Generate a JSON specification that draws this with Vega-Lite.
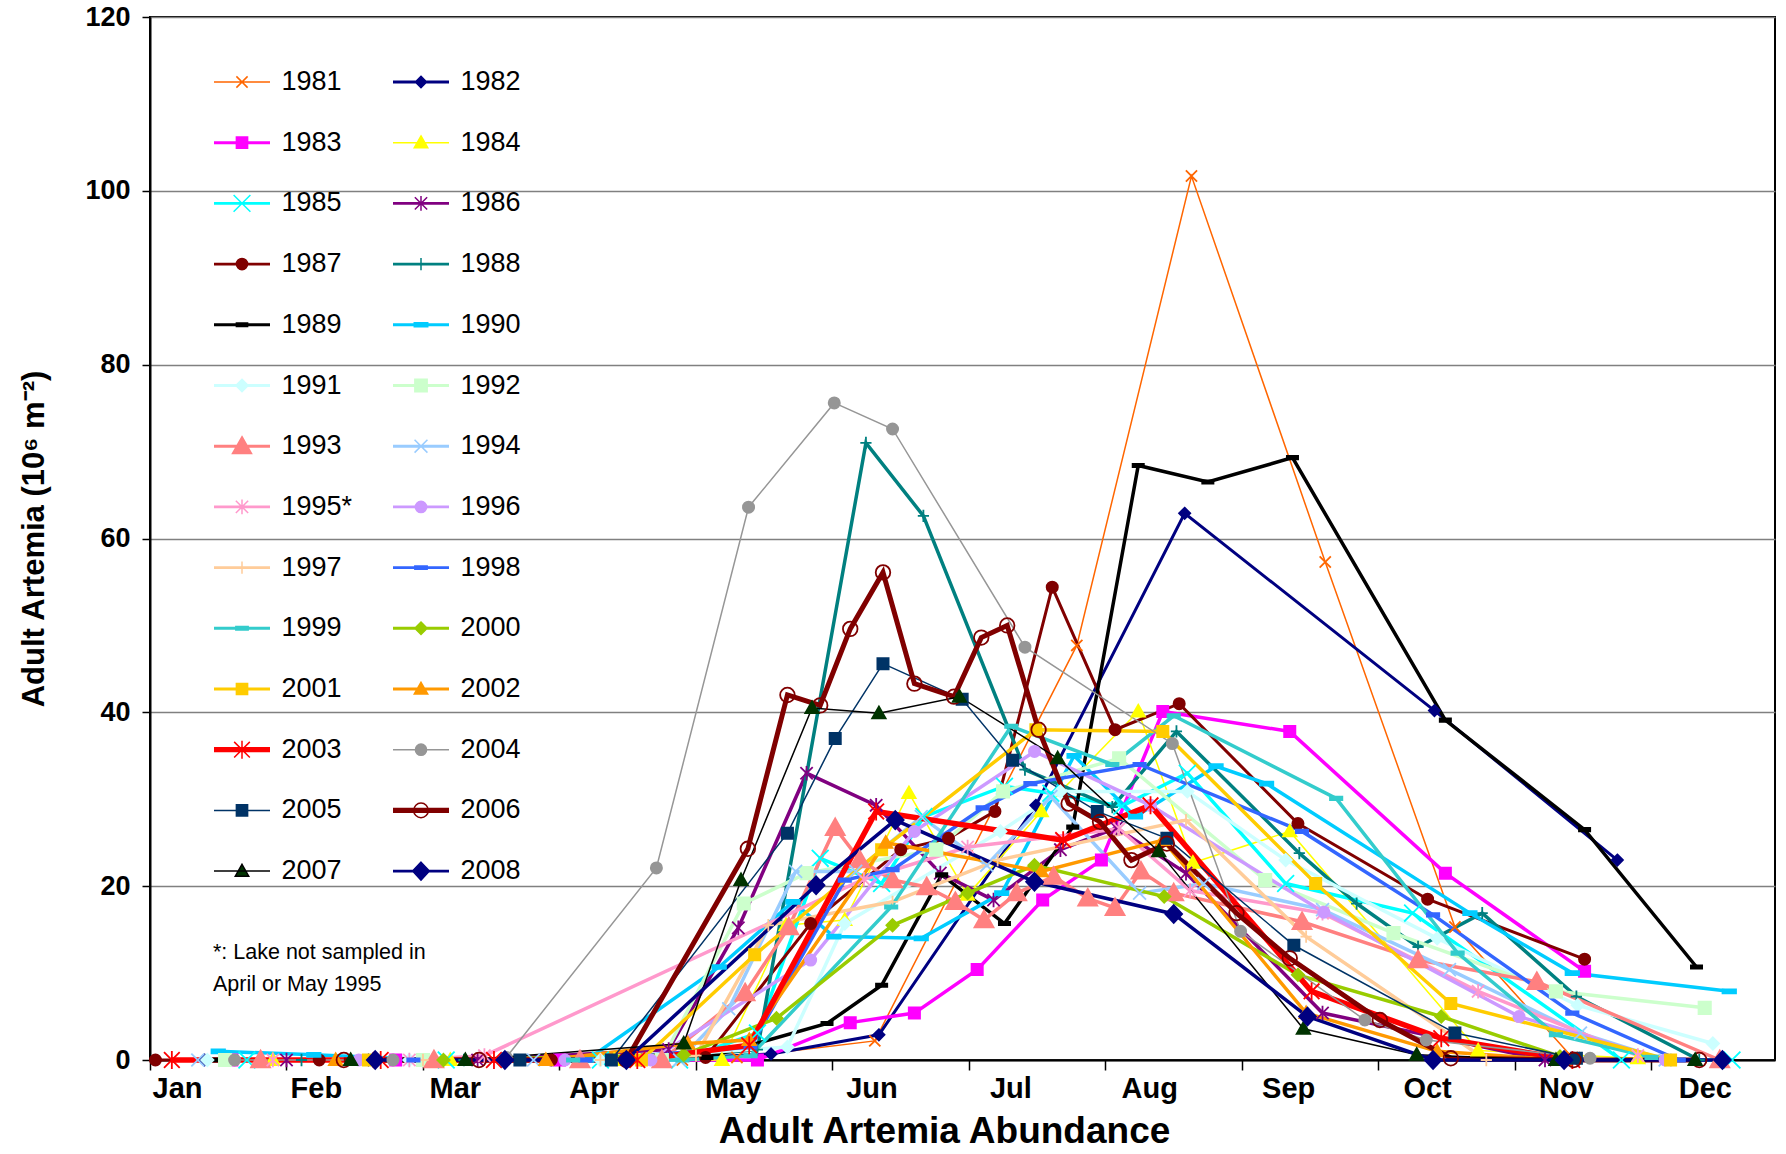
{
  "$schema": "https://vega.github.io/schema/vega-lite/v6.json",
  "width": 1625,
  "height": 1043,
  "autosize": "none",
  "padding": {"left": 150, "top": 17, "right": 11, "bottom": 94},
  "background": "white",
  "config": {"view": {"stroke": "#000", "strokeWidth": 2}},
  "data": {"values": [
    {"yr":"1981","m":3.9,"v":0},{"yr":"1981","m":4.3,"v":0.3},{"yr":"1981","m":5.31,"v":2.2},{"yr":"1981","m":6.79,"v":47.7},{"yr":"1981","m":7.63,"v":101.7},{"yr":"1981","m":8.61,"v":57.3},{"yr":"1981","m":9.56,"v":15.3},{"yr":"1981","m":10.42,"v":0.3},
    {"yr":"1982","m":0.4,"v":0},{"yr":"1982","m":1.6,"v":0},{"yr":"1982","m":2.6,"v":0},{"yr":"1982","m":3.6,"v":0},{"yr":"1982","m":4.55,"v":0.7},{"yr":"1982","m":5.34,"v":2.9},{"yr":"1982","m":6.49,"v":29.3},{"yr":"1982","m":7.58,"v":62.9},{"yr":"1982","m":9.41,"v":40.2},{"yr":"1982","m":10.75,"v":23.0},
    {"yr":"1983","m":0.6,"v":0},{"yr":"1983","m":1.8,"v":0},{"yr":"1983","m":3.0,"v":0},{"yr":"1983","m":4.45,"v":0},{"yr":"1983","m":5.13,"v":4.3},{"yr":"1983","m":5.6,"v":5.4},{"yr":"1983","m":6.06,"v":10.4},{"yr":"1983","m":6.54,"v":18.4},{"yr":"1983","m":6.97,"v":23.0},{"yr":"1983","m":7.42,"v":40.1},{"yr":"1983","m":8.35,"v":37.8},{"yr":"1983","m":9.49,"v":21.5},{"yr":"1983","m":10.51,"v":10.2},
    {"yr":"1984","m":0.9,"v":0},{"yr":"1984","m":2.2,"v":0},{"yr":"1984","m":3.4,"v":0},{"yr":"1984","m":4.19,"v":0},{"yr":"1984","m":4.66,"v":15.5},{"yr":"1984","m":5.09,"v":16.1},{"yr":"1984","m":5.56,"v":30.7},{"yr":"1984","m":5.99,"v":19.0},{"yr":"1984","m":6.53,"v":28.6},{"yr":"1984","m":7.24,"v":40.1},{"yr":"1984","m":7.64,"v":22.7},{"yr":"1984","m":8.35,"v":26.3},{"yr":"1984","m":9.73,"v":1.1},{"yr":"1984","m":10.9,"v":0.2},
    {"yr":"1985","m":0.71,"v":0},{"yr":"1985","m":2.17,"v":0},{"yr":"1985","m":3.3,"v":0},{"yr":"1985","m":3.88,"v":0},{"yr":"1985","m":4.45,"v":3.1},{"yr":"1985","m":4.91,"v":23.2},{"yr":"1985","m":5.36,"v":20.3},{"yr":"1985","m":5.67,"v":28.0},{"yr":"1985","m":6.26,"v":31.5},{"yr":"1985","m":6.6,"v":30.7},{"yr":"1985","m":7.12,"v":29.2},{"yr":"1985","m":7.6,"v":33.0},{"yr":"1985","m":8.32,"v":20.3},{"yr":"1985","m":9.25,"v":16.9},{"yr":"1985","m":10.78,"v":0},{"yr":"1985","m":11.59,"v":0},
    {"yr":"1986","m":1.0,"v":0},{"yr":"1986","m":2.4,"v":0},{"yr":"1986","m":3.8,"v":1.2},{"yr":"1986","m":4.31,"v":15.2},{"yr":"1986","m":4.81,"v":33.0},{"yr":"1986","m":5.32,"v":29.3},{"yr":"1986","m":5.79,"v":21.5},{"yr":"1986","m":6.18,"v":18.4},{"yr":"1986","m":6.67,"v":24.2},{"yr":"1986","m":7.08,"v":26.7},{"yr":"1986","m":7.59,"v":21.5},{"yr":"1986","m":8.59,"v":5.4},{"yr":"1986","m":10.22,"v":0},
    {"yr":"1987","m":0.04,"v":0},{"yr":"1987","m":1.24,"v":0},{"yr":"1987","m":2.94,"v":0},{"yr":"1987","m":4.07,"v":0.3},{"yr":"1987","m":4.84,"v":15.7},{"yr":"1987","m":5.5,"v":24.2},{"yr":"1987","m":5.85,"v":25.5},{"yr":"1987","m":6.19,"v":28.6},{"yr":"1987","m":6.61,"v":54.4},{"yr":"1987","m":7.07,"v":38.0},{"yr":"1987","m":7.54,"v":41.0},{"yr":"1987","m":8.41,"v":27.2},{"yr":"1987","m":9.36,"v":18.5},{"yr":"1987","m":10.51,"v":11.6},
    {"yr":"1988","m":1.11,"v":0},{"yr":"1988","m":2.3,"v":0},{"yr":"1988","m":3.6,"v":0},{"yr":"1988","m":4.45,"v":1.2},{"yr":"1988","m":5.245,"v":71.0},{"yr":"1988","m":5.666,"v":62.6},{"yr":"1988","m":6.41,"v":33.4},{"yr":"1988","m":7.05,"v":29.1},{"yr":"1988","m":7.52,"v":37.8},{"yr":"1988","m":8.42,"v":23.8},{"yr":"1988","m":8.84,"v":18.0},{"yr":"1988","m":9.29,"v":13.0},{"yr":"1988","m":9.76,"v":16.9},{"yr":"1988","m":10.45,"v":7.3},{"yr":"1988","m":11.35,"v":0},
    {"yr":"1989","m":0.48,"v":0},{"yr":"1989","m":1.9,"v":0},{"yr":"1989","m":3.1,"v":0},{"yr":"1989","m":4.08,"v":0.3},{"yr":"1989","m":4.96,"v":4.2},{"yr":"1989","m":5.36,"v":8.6},{"yr":"1989","m":5.8,"v":21.3},{"yr":"1989","m":6.26,"v":15.7},{"yr":"1989","m":6.76,"v":26.8},{"yr":"1989","m":7.24,"v":68.4},{"yr":"1989","m":7.75,"v":66.5},{"yr":"1989","m":8.37,"v":69.3},{"yr":"1989","m":9.49,"v":39.1},{"yr":"1989","m":10.51,"v":26.5},{"yr":"1989","m":11.33,"v":10.7},
    {"yr":"1990","m":0.5,"v":1.0},{"yr":"1990","m":1.2,"v":0.6},{"yr":"1990","m":2.1,"v":0},{"yr":"1990","m":3.2,"v":0},{"yr":"1990","m":4.17,"v":10.7},{"yr":"1990","m":4.71,"v":18.2},{"yr":"1990","m":5.01,"v":14.2},{"yr":"1990","m":5.65,"v":14.0},{"yr":"1990","m":6.24,"v":19.2},{"yr":"1990","m":6.77,"v":35.0},{"yr":"1990","m":7.22,"v":28.0},{"yr":"1990","m":7.81,"v":33.8},{"yr":"1990","m":8.18,"v":31.8},{"yr":"1990","m":9.67,"v":16.9},{"yr":"1990","m":10.42,"v":10.0},{"yr":"1990","m":11.57,"v":7.9},
    {"yr":"1991","m":0.42,"v":0},{"yr":"1991","m":1.9,"v":0},{"yr":"1991","m":3.3,"v":0},{"yr":"1991","m":4.67,"v":1.5},{"yr":"1991","m":5.09,"v":15.7},{"yr":"1991","m":6.23,"v":26.3},{"yr":"1991","m":6.67,"v":30.9},{"yr":"1991","m":7.6,"v":30.9},{"yr":"1991","m":8.32,"v":23.0},{"yr":"1991","m":9.43,"v":14.0},{"yr":"1991","m":10.46,"v":6.3},{"yr":"1991","m":11.45,"v":1.9},
    {"yr":"1992","m":0.55,"v":0},{"yr":"1992","m":2.0,"v":0},{"yr":"1992","m":3.75,"v":0},{"yr":"1992","m":4.35,"v":18.0},{"yr":"1992","m":4.81,"v":21.5},{"yr":"1992","m":5.76,"v":24.2},{"yr":"1992","m":6.25,"v":30.9},{"yr":"1992","m":7.1,"v":34.7},{"yr":"1992","m":8.17,"v":20.7},{"yr":"1992","m":9.11,"v":14.6},{"yr":"1992","m":10.3,"v":7.9},{"yr":"1992","m":11.39,"v":6.0},
    {"yr":"1993","m":0.81,"v":0},{"yr":"1993","m":2.08,"v":0},{"yr":"1993","m":3.15,"v":0},{"yr":"1993","m":3.75,"v":0},{"yr":"1993","m":4.36,"v":7.7},{"yr":"1993","m":4.68,"v":15.3},{"yr":"1993","m":5.02,"v":26.7},{"yr":"1993","m":5.2,"v":23.0},{"yr":"1993","m":5.44,"v":20.7},{"yr":"1993","m":5.69,"v":19.9},{"yr":"1993","m":5.9,"v":18.2},{"yr":"1993","m":6.11,"v":16.1},{"yr":"1993","m":6.35,"v":19.2},{"yr":"1993","m":6.62,"v":21.1},{"yr":"1993","m":6.87,"v":18.6},{"yr":"1993","m":7.07,"v":17.5},{"yr":"1993","m":7.26,"v":21.7},{"yr":"1993","m":7.5,"v":19.2},{"yr":"1993","m":8.44,"v":15.9},{"yr":"1993","m":9.29,"v":11.5},{"yr":"1993","m":10.16,"v":9.0},{"yr":"1993","m":11.5,"v":0},
    {"yr":"1994","m":0.35,"v":0},{"yr":"1994","m":2.81,"v":0},{"yr":"1994","m":3.88,"v":0},{"yr":"1994","m":4.24,"v":5.9},{"yr":"1994","m":4.73,"v":21.7},{"yr":"1994","m":5.17,"v":21.7},{"yr":"1994","m":5.65,"v":28.0},{"yr":"1994","m":6.13,"v":22.4},{"yr":"1994","m":6.6,"v":30.3},{"yr":"1994","m":7.25,"v":19.2},{"yr":"1994","m":7.72,"v":20.3},{"yr":"1994","m":8.59,"v":17.3},{"yr":"1994","m":9.52,"v":10.4},{"yr":"1994","m":10.48,"v":3.1},{"yr":"1994","m":11.1,"v":0},
    {"yr":"1995*","m":0.9,"v":0},{"yr":"1995*","m":1.9,"v":0},{"yr":"1995*","m":2.45,"v":0.5},{"yr":"1995*","m":5.23,"v":20.8},{"yr":"1995*","m":5.99,"v":24.5},{"yr":"1995*","m":7.1,"v":26.6},{"yr":"1995*","m":7.62,"v":19.5},{"yr":"1995*","m":8.59,"v":16.9},{"yr":"1995*","m":9.73,"v":7.9},{"yr":"1995*","m":10.9,"v":0.5},
    {"yr":"1996","m":1.53,"v":0},{"yr":"1996","m":3.04,"v":0},{"yr":"1996","m":3.67,"v":0},{"yr":"1996","m":4.84,"v":11.5},{"yr":"1996","m":5.6,"v":26.3},{"yr":"1996","m":6.48,"v":35.5},{"yr":"1996","m":7.33,"v":29.3},{"yr":"1996","m":8.6,"v":17.0},{"yr":"1996","m":10.03,"v":5.0},{"yr":"1996","m":11.1,"v":0},
    {"yr":"1997","m":2.0,"v":0},{"yr":"1997","m":3.3,"v":0},{"yr":"1997","m":4.0,"v":0.5},{"yr":"1997","m":4.53,"v":15.5},{"yr":"1997","m":5.44,"v":18.2},{"yr":"1997","m":6.21,"v":23.0},{"yr":"1997","m":7.59,"v":27.6},{"yr":"1997","m":8.47,"v":14.2},{"yr":"1997","m":9.79,"v":0},
    {"yr":"1998","m":1.93,"v":0},{"yr":"1998","m":3.19,"v":0},{"yr":"1998","m":4.4,"v":1.5},{"yr":"1998","m":5.09,"v":20.7},{"yr":"1998","m":5.44,"v":21.9},{"yr":"1998","m":6.1,"v":29.0},{"yr":"1998","m":6.45,"v":31.8},{"yr":"1998","m":7.25,"v":34.0},{"yr":"1998","m":8.44,"v":26.3},{"yr":"1998","m":9.4,"v":16.7},{"yr":"1998","m":10.42,"v":5.4},{"yr":"1998","m":11.2,"v":0},
    {"yr":"1999","m":3.1,"v":0},{"yr":"1999","m":3.9,"v":0},{"yr":"1999","m":4.4,"v":0.5},{"yr":"1999","m":5.43,"v":17.6},{"yr":"1999","m":6.31,"v":38.4},{"yr":"1999","m":7.05,"v":34.0},{"yr":"1999","m":7.5,"v":39.6},{"yr":"1999","m":8.69,"v":30.1},{"yr":"1999","m":9.58,"v":12.3},{"yr":"1999","m":10.3,"v":2.9},{"yr":"1999","m":11.0,"v":0.3},
    {"yr":"2000","m":2.15,"v":0},{"yr":"2000","m":3.91,"v":0.6},{"yr":"2000","m":4.59,"v":4.8},{"yr":"2000","m":5.44,"v":15.5},{"yr":"2000","m":5.99,"v":19.2},{"yr":"2000","m":6.48,"v":22.4},{"yr":"2000","m":7.43,"v":18.8},{"yr":"2000","m":8.41,"v":9.8},{"yr":"2000","m":9.46,"v":5.0},{"yr":"2000","m":10.33,"v":0.4},
    {"yr":"2001","m":1.6,"v":0},{"yr":"2001","m":3.6,"v":0},{"yr":"2001","m":4.43,"v":12.1},{"yr":"2001","m":5.36,"v":24.2},{"yr":"2001","m":6.49,"v":38.0},{"yr":"2001","m":7.42,"v":37.8},{"yr":"2001","m":8.54,"v":20.3},{"yr":"2001","m":9.53,"v":6.5},{"yr":"2001","m":11.14,"v":0},
    {"yr":"2002","m":1.36,"v":0},{"yr":"2002","m":2.9,"v":0},{"yr":"2002","m":3.94,"v":1.9},{"yr":"2002","m":4.39,"v":2.3},{"yr":"2002","m":5.39,"v":25.0},{"yr":"2002","m":6.53,"v":21.7},{"yr":"2002","m":7.42,"v":25.3},{"yr":"2002","m":8.47,"v":5.4},{"yr":"2002","m":9.43,"v":1.0},{"yr":"2002","m":10.36,"v":0},
    {"yr":"2003","m":0.16,"v":0},{"yr":"2003","m":1.69,"v":0},{"yr":"2003","m":2.52,"v":0},{"yr":"2003","m":3.57,"v":0},{"yr":"2003","m":4.39,"v":1.7},{"yr":"2003","m":5.32,"v":28.6},{"yr":"2003","m":6.69,"v":25.3},{"yr":"2003","m":7.33,"v":29.3},{"yr":"2003","m":8.51,"v":7.9},{"yr":"2003","m":9.46,"v":2.5},{"yr":"2003","m":10.42,"v":0},
    {"yr":"2004","m":0.62,"v":0},{"yr":"2004","m":1.78,"v":0},{"yr":"2004","m":2.61,"v":0.3},{"yr":"2004","m":3.71,"v":22.1},{"yr":"2004","m":4.385,"v":63.6},{"yr":"2004","m":5.013,"v":75.6},{"yr":"2004","m":5.44,"v":72.6},{"yr":"2004","m":6.41,"v":47.5},{"yr":"2004","m":7.49,"v":36.4},{"yr":"2004","m":7.99,"v":14.8},{"yr":"2004","m":8.9,"v":4.6},{"yr":"2004","m":9.35,"v":2.3},{"yr":"2004","m":10.55,"v":0.2},
    {"yr":"2005","m":2.71,"v":0},{"yr":"2005","m":3.38,"v":0},{"yr":"2005","m":4.67,"v":26.1},{"yr":"2005","m":5.02,"v":37.0},{"yr":"2005","m":5.37,"v":45.6},{"yr":"2005","m":5.95,"v":41.5},{"yr":"2005","m":6.32,"v":34.5},{"yr":"2005","m":6.94,"v":28.6},{"yr":"2005","m":7.45,"v":25.5},{"yr":"2005","m":8.38,"v":13.2},{"yr":"2005","m":9.56,"v":3.1},{"yr":"2005","m":10.45,"v":0.2},
    {"yr":"2006","m":1.42,"v":0},{"yr":"2006","m":2.41,"v":0},{"yr":"2006","m":3.49,"v":0},{"yr":"2006","m":4.38,"v":24.3},{"yr":"2006","m":4.67,"v":42.0},{"yr":"2006","m":4.91,"v":40.8},{"yr":"2006","m":5.13,"v":49.6},{"yr":"2006","m":5.37,"v":56.1},{"yr":"2006","m":5.6,"v":43.3},{"yr":"2006","m":5.89,"v":41.8},{"yr":"2006","m":6.09,"v":48.6},{"yr":"2006","m":6.28,"v":50.0},{"yr":"2006","m":6.51,"v":38.0},{"yr":"2006","m":6.73,"v":29.5},{"yr":"2006","m":6.96,"v":27.4},{"yr":"2006","m":7.19,"v":23.0},{"yr":"2006","m":7.45,"v":24.9},{"yr":"2006","m":7.96,"v":16.9},{"yr":"2006","m":8.35,"v":11.7},{"yr":"2006","m":9.01,"v":4.6},{"yr":"2006","m":9.53,"v":0.2},{"yr":"2006","m":10.43,"v":0},{"yr":"2006","m":11.35,"v":0},
    {"yr":"2007","m":1.47,"v":0},{"yr":"2007","m":2.31,"v":0},{"yr":"2007","m":3.91,"v":1.9},{"yr":"2007","m":4.33,"v":20.7},{"yr":"2007","m":4.85,"v":40.5},{"yr":"2007","m":5.34,"v":39.9},{"yr":"2007","m":5.93,"v":41.8},{"yr":"2007","m":6.65,"v":34.7},{"yr":"2007","m":7.39,"v":24.0},{"yr":"2007","m":8.45,"v":3.6},{"yr":"2007","m":9.28,"v":0.6},{"yr":"2007","m":10.3,"v":0},{"yr":"2007","m":11.32,"v":0},
    {"yr":"2008","m":1.65,"v":0},{"yr":"2008","m":2.6,"v":0},{"yr":"2008","m":3.49,"v":0},{"yr":"2008","m":4.88,"v":20.1},{"yr":"2008","m":5.46,"v":27.6},{"yr":"2008","m":6.48,"v":20.5},{"yr":"2008","m":7.5,"v":16.8},{"yr":"2008","m":8.48,"v":5.0},{"yr":"2008","m":9.4,"v":0},{"yr":"2008","m":10.36,"v":0},{"yr":"2008","m":11.52,"v":0}
  ]},
  "encoding": {
    "x": {"field": "m", "type": "quantitative",
      "scale": {"domain": [0, 11.905], "nice": false, "zero": false},
      "axis": {"values": [0,1,2,3,4,5,6,7,8,9,10,11], "grid": false,
        "labelExpr": "['Jan','Feb','Mar','Apr','May','Jun','Jul','Aug','Sep','Oct','Nov','Dec'][round(datum.value)]",
        "labelFont": "Liberation Sans", "labelFontWeight": "bold", "labelFontSize": 29, "labelColor": "#000",
        "labelPadding": 4, "labelOverlap": false, "labelFlush": false, "labelBound": false,
        "labelOffset": {"expr": "27 + 2.4*datum.value"},
        "tickSize": 10, "tickWidth": 1.5, "tickColor": "#000", "domainColor": "#000", "domainWidth": 2,
        "title": "Adult Artemia Abundance", "titleFont": "Liberation Sans", "titleFontSize": 37, "titleFontWeight": "bold", "titleColor": "#000",
        "titleX": 794, "titleAlign": "center", "titlePadding": 10}},
    "y": {"field": "v", "type": "quantitative",
      "scale": {"domain": [0, 120], "nice": false},
      "axis": {"values": [0,20,40,60,80,100,120], "grid": true, "gridColor": "#808080", "gridWidth": 1.5,
        "domainColor": "#000", "domainWidth": 2, "tickColor": "#000", "tickWidth": 1.5, "tickSize": 8,
        "labelFont": "Liberation Sans", "labelFontWeight": "bold", "labelFontSize": 27, "labelColor": "#000", "labelPadding": 12,
        "title": "Adult Artemia (10⁶ m⁻²)", "titleFont": "Liberation Sans", "titleFontSize": 31, "titleFontWeight": "bold", "titleColor": "#000", "titlePadding": 34}}
  },
  "layer": [
    {
      "mark": {"type": "line", "opacity": 1},
      "encoding": {
        "color": {"field": "yr", "type": "nominal", "legend": null,
          "scale": {"range": ["#FF6600","#000080","#FF00FF","#FFFF00","#00FFFF","#800080","#800000","#008080","#000000","#00CCFF","#CCFFFF","#CCFFCC","#FF8080","#99CCFF","#FF99CC","#CC99FF","#FFCC99","#3366FF","#33CCCC","#99CC00","#FFCC00","#FF9900","#FF0000","#969696","#003366","#800000","#000000","#000080"]}},
        "strokeWidth": {"field": "yr", "type": "nominal", "legend": null,
          "scale": {"type": "ordinal",
            "range": [1.5,3,3.5,1.5,3.5,3.5,3,3.5,3.5,3.5,3.5,3.5,3.5,3.5,3.5,3.5,3.5,3.5,3.5,3.5,3.5,3.5,5.5,1.5,1.5,5,1.5,3.5]}}
      }
    },
    {
      "mark": {"type": "point", "filled": true, "opacity": 1, "size": 3136, "strokeWidth": 1.8},
      "encoding": {
        "shape": {"field": "yr", "type": "nominal", "legend": null,
          "scale": {
            "range": [
              "M-0.2,-0.2L0.2,0.2M-0.2,0.2L0.2,-0.2",
              "M0,-0.2L0.2,0L0,0.2L-0.2,0Z",
              "M-0.2,-0.2L0.2,-0.2L0.2,0.2L-0.2,0.2Z",
              "M0,-0.24L0.24,0.18L-0.24,0.18Z",
              "M-0.3,-0.3L0.3,0.3M-0.3,0.3L0.3,-0.3",
              "M-0.22,-0.22L0.22,0.22M-0.22,0.22L0.22,-0.22M0,-0.26L0,0.26",
              "M-0.2,0A0.2,0.2,0,1,0,0.2,0A0.2,0.2,0,1,0,-0.2,0Z",
              "M-0.2,0L0.2,0M0,-0.22L0,0.22",
              "M-0.2,-0.06L0.2,-0.06L0.2,0.06L-0.2,0.06Z",
              "M-0.24,-0.07L0.24,-0.07L0.24,0.07L-0.24,0.07Z",
              "M0,-0.22L0.22,0L0,0.22L-0.22,0Z",
              "M-0.22,-0.22L0.22,-0.22L0.22,0.22L-0.22,0.22Z",
              "M0,-0.34L0.34,0.26L-0.34,0.26Z",
              "M-0.23,-0.23L0.23,0.23M-0.23,0.23L0.23,-0.23",
              "M-0.22,-0.22L0.22,0.22M-0.22,0.22L0.22,-0.22M0,-0.26L0,0.26",
              "M-0.2,0A0.2,0.2,0,1,0,0.2,0A0.2,0.2,0,1,0,-0.2,0Z",
              "M-0.2,0L0.2,0M0,-0.22L0,0.22",
              "M-0.22,-0.06L0.22,-0.06L0.22,0.06L-0.22,0.06Z",
              "M-0.22,-0.06L0.22,-0.06L0.22,0.06L-0.22,0.06Z",
              "M0,-0.22L0.22,0L0,0.22L-0.22,0Z",
              "M-0.2,-0.2L0.2,-0.2L0.2,0.2L-0.2,0.2Z",
              "M0,-0.24L0.24,0.18L-0.24,0.18Z",
              "M-0.28,-0.28L0.28,0.28M-0.28,0.28L0.28,-0.28M0,-0.32L0,0.32",
              "M-0.2,0A0.2,0.2,0,1,0,0.2,0A0.2,0.2,0,1,0,-0.2,0Z",
              "M-0.2,-0.2L0.2,-0.2L0.2,0.2L-0.2,0.2Z",
              "M-0.26,0A0.26,0.26,0,1,0,0.26,0A0.26,0.26,0,1,0,-0.26,0Z",
              "M0,-0.24L0.24,0.18L-0.24,0.18Z",
              "M0,-0.32L0.3,0L0,0.32L-0.3,0Z"]}},
        "stroke": {"field": "yr", "type": "nominal", "legend": null,
          "scale": {"range": ["#FF6600","#000080","#FF00FF","#FFFF00","#00FFFF","#800080","#800000","#008080","#000000","#00CCFF","#CCFFFF","#CCFFCC","#FF8080","#99CCFF","#FF99CC","#CC99FF","#FFCC99","#3366FF","#33CCCC","#99CC00","#FFCC00","#FF9900","#FF0000","#969696","#003366","#800000","#003300","#000080"]}},
        "fill": {"field": "yr", "type": "nominal",
          "scale": {"domain": ["1981","1982","1983","1984","1985","1986","1987","1988","1989","1990","1991","1992","1993","1994","1995*","1996","1997","1998","1999","2000","2001","2002","2003","2004","2005","2006","2007","2008"],
            "range": ["#FF6600","#000080","#FF00FF","#FFFF00","#00FFFF","#800080","#800000","#008080","#000000","#00CCFF","#CCFFFF","#CCFFCC","#FF8080","#99CCFF","#FF99CC","#CC99FF","#FFCC99","#3366FF","#33CCCC","#99CC00","#FFCC00","#FF9900","#FF0000","#969696","#003366","transparent","#003300","#000080"]},
          "legend": {"orient": "none", "legendX": 63, "legendY": 36, "direction": "horizontal", "columns": 2, "columnPadding": 37, "rowPadding": 18.7,
            "symbolSize": 3136, "symbolOpacity": 1, "symbolStrokeWidth": 1.5,
            "symbolType": {"expr": "(scale('strokeWidth', datum.value) < 2 ? 'M-1,0L1,0' : scale('strokeWidth', datum.value) < 4.5 ? 'M-1,0L1,0M-1,-0.025L1,-0.025M-1,0.025L1,0.025' : 'M-1,0L1,0M-1,-0.022L1,-0.022M-1,0.022L1,0.022M-1,-0.044L1,-0.044M-1,0.044L1,0.044M-1,-0.066L1,-0.066M-1,0.066L1,0.066') + scale('shape', datum.value)"},
            "symbolStrokeColor": {"expr": "scale('color', datum.value)"},
            "labelFont": "Liberation Sans", "labelFontSize": 27, "labelColor": "#000", "labelOffset": 10.5, "labelLimit": 300,
            "padding": 0,
            "title": ["*: Lake not sampled in", "April or May 1995"], "titleOrient": "bottom", "titleAnchor": "start",
            "titleFont": "Liberation Sans", "titleFontSize": 21.5, "titleFontWeight": "normal", "titleColor": "#000",
            "titleLineHeight": 32, "titleLimit": 500, "titlePadding": 58}}
      }
    }
  ]
}
